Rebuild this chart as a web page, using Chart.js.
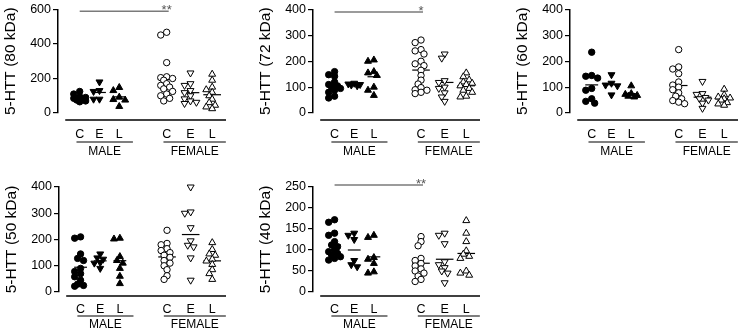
<!DOCTYPE html>
<html>
<head>
<meta charset="utf-8">
<script src="https://cdn.jsdelivr.net/npm/chart.js@4.4.1/dist/chart.umd.min.js"></script>
<style>
  html, body { margin: 0; padding: 0; background: #fff; }
  #wrap { position: relative; width: 743px; height: 335px; overflow: hidden; }
  canvas { position: absolute; }
</style>
</head>
<body>
<div id="wrap"></div>
<script>
// group order in every panel: male C, E, L, then female C, E, L
const groupLabels = ['C', 'E', 'L', 'C', 'E', 'L'];
const sexLabels = ['MALE', 'FEMALE'];
const xPos = [0.9, 2.13, 3.36, 6.31, 7.79, 9.14];

const panelTitles = ['5-HTT (80 kDa)', '5-HTT (72 kDa)', '5-HTT (60 kDa)', '5-HTT (50 kDa)', '5-HTT (40 kDa)'];
const yMax = [600, 400, 400, 400, 250];
const yStep = [200, 100, 100, 100, 50];
const sigLevel = [590, 390, null, null, 255];
const sigText = ['**', '*', '', '', '**'];

// values
const htt80 = [
    [125, 110, 95, 90, 85, 80, 75, 70, 65],
    [180, 130, 125, 80, 80],
    [148, 130, 92, 78, 75, 38],
    [468, 452, 292, 210, 205, 200, 190, 170, 160, 150, 140, 125, 110, 100, 85, 70],
    [232, 170, 160, 130, 118, 100, 82, 70, 62, 55],
    [225, 190, 150, 135, 120, 100, 80, 60, 45, 35, 25]
];
const htt72 = [
    [160, 148, 142, 120, 110, 105, 100, 95, 88, 80, 65, 58],
    [115, 112, 110, 108, 105],
    [205, 200, 160, 155, 145, 100, 88, 68],
    [282, 272, 245, 240, 228, 200, 190, 183, 165, 145, 127, 112, 98, 90, 88, 80, 75],
    [228, 212, 125, 118, 100, 95, 78, 62, 45],
    [155, 140, 128, 120, 115, 110, 105, 95, 88, 80, 65, 62]
];
const htt60 = [
    [235, 145, 142, 135, 95, 88, 55, 45, 38],
    [148, 115, 108, 105, 70],
    [105, 75, 72, 68, 65, 62],
    [245, 178, 170, 152, 120, 108, 100, 90, 78, 65, 55, 48, 42, 36],
    [122, 75, 72, 60, 55, 50, 38, 18],
    [92, 70, 62, 58, 55, 50, 40, 35, 30]
];
const htt50 = [
    [210, 205, 145, 128, 120, 90, 78, 70, 58, 45, 30, 25, 22],
    [145, 130, 125, 112, 110, 90],
    [205, 202, 135, 120, 110, 90, 60, 32],
    [235, 185, 180, 165, 158, 150, 140, 132, 120, 110, 100, 85, 62, 48],
    [400, 305, 300, 245, 195, 178, 172, 130, 45],
    [188, 162, 145, 140, 125, 118, 105, 85, 70, 48]
];
const htt40 = [
    [172, 166, 140, 135, 120, 112, 108, 100, 96, 92, 88, 84, 80, 76],
    [140, 135, 125, 75, 65, 60],
    [135, 130, 82, 78, 68, 48, 45],
    [132, 120, 110, 80, 75, 68, 62, 55, 50, 45, 38, 30, 25],
    [140, 135, 115, 72, 65, 58, 50, 45, 22],
    [170, 140, 120, 98, 90, 85, 80, 50, 45, 40]
];
const panelData = [htt80, htt72, htt60, htt50, htt40];

// marker look per group
const markerStyle = ['circle', 'triangle', 'triangle', 'circle', 'triangle', 'triangle'];
const markerRot = [0, 180, 0, 0, 180, 0];
const markerFilled = [true, true, true, false, false, false];
const meanHalf = [0.4, 0.4, 0.4, 0.55, 0.55, 0.55];

// where each panel sits on the page
const row1 = { top: 0, h: 167, padTop: 9, padBottom: 26, xH: 28, tickPad: 14, base: 7, und: 29, grp: 39 };
const row2 = { top: 168, h: 167, padTop: 19, padBottom: 21, xH: 22, tickPad: 10, base: 4, und: 24, grp: 33 };
const panelBoxes = [
    { left: 0, right: 228, ...row1 },
    { left: 255, right: 482, ...row1 },
    { left: 512, right: 740, ...row1 },
    { left: 1, right: 228, ...row2 },
    { left: 255, right: 482, ...row2 }
];

const FONT = '"Liberation Sans", Arial, sans-serif';
Chart.defaults.font.family = FONT;
Chart.defaults.color = '#000';

// small beeswarm so overlapping points spread sideways a little
function swarm(vals, max) {
    const order = vals.map((v, i) => i).sort((a, b) => vals[b] - vals[a]);
    const placed = [];
    const off = [];
    order.forEach(i => {
        const py = vals[i] / max * 105;
        let best = 0, bestD = -1;
        for (const k of [0, -1, 1, -2, 2]) {
            const px = k * 3;
            let d = Infinity;
            placed.forEach(p => { d = Math.min(d, Math.hypot(p[0] - px, p[1] - py)); });
            if (d >= 4.5) { best = px; bestD = d; break; }
            if (d > bestD) { bestD = d; best = px; }
        }
        placed.push([best, py]);
        off[i] = best / 16.27;
    });
    return off;
}

const decor = {
    id: 'decor',
    afterDraw(chart, args, o) {
        const { ctx, chartArea: a, scales: { x, y } } = chart;
        const b = o.box;
        ctx.save();
        ctx.strokeStyle = '#000';
        ctx.fillStyle = '#000';
        // offset x baseline
        ctx.lineWidth = 1.6;
        ctx.beginPath();
        ctx.moveTo(x.getPixelForValue(0), a.bottom + b.base);
        ctx.lineTo(a.right, a.bottom + b.base);
        ctx.stroke();
        // sex group underline and label
        ctx.font = '12px ' + FONT;
        ctx.textAlign = 'center';
        ctx.textBaseline = 'middle';
        ctx.lineWidth = 1.2;
        sexLabels.forEach((s, g) => {
            const x0 = x.getPixelForValue(xPos[g * 3] - 0.2);
            const x1 = x.getPixelForValue(xPos[g * 3 + 2] + 0.85);
            ctx.beginPath();
            ctx.moveTo(x0, a.bottom + b.und);
            ctx.lineTo(x1, a.bottom + b.und);
            ctx.stroke();
            ctx.fillText(s, (x0 + x1) / 2, a.bottom + b.grp);
        });
        // significance bar male C vs female C
        if (o.sig != null) {
            const sy = y.getPixelForValue(o.sig);
            const sx0 = x.getPixelForValue(xPos[0]);
            const sx1 = x.getPixelForValue(xPos[3]) + 2;
            ctx.strokeStyle = '#7a7a7a';
            ctx.fillStyle = '#555';
            ctx.lineWidth = 1.5;
            ctx.beginPath();
            ctx.moveTo(sx0, sy);
            ctx.lineTo(sx1, sy);
            ctx.stroke();
            ctx.font = '13px ' + FONT;
            ctx.textBaseline = 'alphabetic';
            ctx.fillText(o.star, sx1 - 2, sy + 3);
        }
        ctx.restore();
    }
};

const wrap = document.getElementById('wrap');

panelData.forEach((groups, p) => {
    const box = panelBoxes[p];
    const cv = document.createElement('canvas');
    const w = box.right - box.left + 3;
    cv.width = w;
    cv.height = box.h;
    cv.style.left = box.left + 'px';
    cv.style.top = box.top + 'px';
    wrap.appendChild(cv);

    const datasets = [];
    groups.forEach((vals, g) => {
        const off = swarm(vals, yMax[p]);
        datasets.push({
            data: vals.map((v, i) => ({ x: xPos[g] + off[i], y: v })),
            pointStyle: markerStyle[g],
            rotation: markerRot[g],
            pointRadius: markerStyle[g] === 'circle' ? 3.2 : 4,
            pointBackgroundColor: markerFilled[g] ? '#000' : '#fff',
            pointBorderColor: '#000',
            pointBorderWidth: 1,
            clip: false
        });
    });
    groups.forEach((vals, g) => {
        const mean = vals.reduce((s, v) => s + v, 0) / vals.length;
        datasets.push({
            data: [{ x: xPos[g] - meanHalf[g], y: mean }, { x: xPos[g] + meanHalf[g], y: mean }],
            showLine: true,
            pointRadius: 0,
            borderColor: '#000',
            borderWidth: 1.2,
            clip: false
        });
    });

    new Chart(cv, {
        type: 'scatter',
        data: { datasets },
        plugins: [decor],
        options: {
            responsive: false,
            animation: false,
            events: [],
            layout: { padding: { top: box.padTop, bottom: box.padBottom, right: 3, left: 0 } },
            plugins: {
                legend: { display: false },
                tooltip: { enabled: false },
                decor: { box, sig: sigLevel[p], star: sigText[p] }
            },
            scales: {
                x: {
                    type: 'linear',
                    min: -0.45,
                    max: 10,
                    afterBuildTicks: (s) => { s.ticks = xPos.map(v => ({ value: v })); },
                    afterFit: (s) => { s.height = box.xH; },
                    grid: { display: false, drawTicks: false },
                    border: { display: false },
                    ticks: {
                        autoSkip: false,
                        maxRotation: 0,
                        padding: box.tickPad,
                        font: { size: 12.5 },
                        callback: (v, i) => groupLabels[i]
                    }
                },
                y: {
                    min: 0,
                    max: yMax[p],
                    afterFit: (s) => { s.width = 58; },
                    grid: { display: true, drawOnChartArea: false, drawTicks: true, tickLength: 5, color: '#000', lineWidth: 1.2 },
                    border: { display: true, color: '#000', width: 1.5 },
                    ticks: { stepSize: yStep[p], padding: 2, font: { size: 12.5 } },
                    title: { display: true, text: panelTitles[p], font: { size: 15.5 }, padding: { top: 1, bottom: 0 } }
                }
            }
        }
    });
});
</script>
</body>
</html>
